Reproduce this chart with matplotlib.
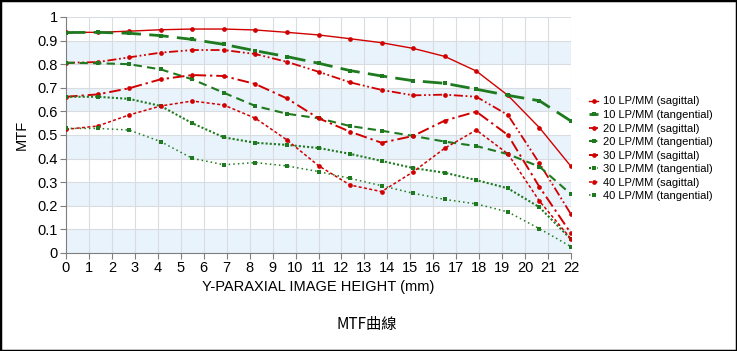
import numpy as np
import matplotlib
matplotlib.use("Agg")
import matplotlib.pyplot as plt
from matplotlib.patches import Rectangle

plt.rcParams['font.family'] = ['Liberation Sans', 'DejaVu Sans']

# image height positions of the markers (mm)
heights = [i * 22 / 16 for i in range(17)]

s10 = [0.935, 0.935, 0.94, 0.946, 0.949, 0.949, 0.945, 0.935, 0.924, 0.908,
       0.891, 0.867, 0.833, 0.771, 0.668, 0.531, 0.367]
t10 = [0.934, 0.935, 0.931, 0.921, 0.905, 0.884, 0.857, 0.832, 0.804, 0.773,
       0.75, 0.73, 0.719, 0.694, 0.668, 0.645, 0.559]
s20 = [0.806, 0.809, 0.829, 0.849, 0.86, 0.86, 0.843, 0.81, 0.768, 0.723,
       0.691, 0.668, 0.671, 0.662, 0.585, 0.38, 0.164]
t20 = [0.806, 0.804, 0.8, 0.778, 0.736, 0.679, 0.623, 0.59, 0.571, 0.538,
       0.518, 0.496, 0.472, 0.453, 0.419, 0.366, 0.249]
s30 = [0.662, 0.672, 0.698, 0.736, 0.754, 0.75, 0.716, 0.655, 0.571, 0.514,
       0.467, 0.496, 0.561, 0.599, 0.5, 0.28, 0.083]
t30 = [0.662, 0.662, 0.653, 0.623, 0.55, 0.49, 0.467, 0.458, 0.445, 0.42,
       0.39, 0.36, 0.34, 0.309, 0.274, 0.194, 0.058]
s40 = [0.524, 0.538, 0.585, 0.623, 0.644, 0.627, 0.571, 0.479, 0.37, 0.288,
       0.26, 0.344, 0.444, 0.521, 0.42, 0.22, 0.06]
t40 = [0.528, 0.528, 0.521, 0.472, 0.401, 0.374, 0.383, 0.369, 0.345, 0.316,
       0.285, 0.253, 0.227, 0.208, 0.174, 0.103, 0.027]

labels = ["10 LP/MM (sagittal)", "10 LP/MM (tangential)",
          "20 LP/MM (sagittal)", "20 LP/MM (tangential)",
          "30 LP/MM (sagittal)", "30 LP/MM (tangential)",
          "40 LP/MM (sagittal)", "40 LP/MM (tangential)"]

RED = '#d10000'
GREEN = '#1f7a1f'

styles = [
    dict(color=RED, ls='-', lw=1.0, marker='o'),
    dict(color=GREEN, ls=(0, (7, 3)), lw=2.0, marker='s'),
    dict(color=RED, ls=(0, (5, 1.5, 1, 1.5, 1, 1.5)), lw=1.3, marker='o'),
    dict(color=GREEN, ls=(0, (4, 2.5)), lw=1.5, marker='s'),
    dict(color=RED, ls=(0, (6, 2, 1.2, 2)), lw=1.4, marker='o'),
    dict(color=GREEN, ls=(0, (1, 1)), lw=1.5, marker='s'),
    dict(color=RED, ls=(0, (2, 1.5)), lw=1.1, marker='o'),
    dict(color=GREEN, ls=(0, (1, 2)), lw=1.1, marker='s'),
]

fig = plt.figure(figsize=(7.37, 3.51), dpi=100)
ax = fig.add_axes([66 / 737, 1 - 253 / 351, (571 - 66) / 737, (253 - 17) / 351])

# alternating bands
for lo in [0.0, 0.2, 0.4, 0.6, 0.8]:
    ax.axhspan(lo, lo + 0.1, color='#e9f3fb', zorder=0, lw=0)

ax.set_xticks(range(23))
ax.set_yticks(np.arange(0, 1.01, 0.1))
ax.set_yticklabels(["0", "0.1", "0.2", "0.3", "0.4", "0.5",
                    "0.6", "0.7", "0.8", "0.9", "1"])
ax.grid(True, color='#d9dde2', lw=0.8, zorder=1)
ax.set_axisbelow(True)

series = [s10, t10, s20, t20, s30, t30, s40, t40]
for vals, lab, st in zip(series, labels, styles):
    ax.plot(heights, vals, label=lab, color=st['color'], ls=st['ls'],
            lw=st['lw'], marker=st['marker'], ms=3.4, mew=0, zorder=3)

ax.set_xlim(0, 22)
ax.set_ylim(0, 1)
for side in ['top', 'right']:
    ax.spines[side].set_visible(False)
for side in ['left', 'bottom']:
    ax.spines[side].set_color('#7f7f7f')
ax.tick_params(colors='#7f7f7f', labelcolor='black', labelsize=10.5,
               length=4, width=0.8, pad=2)

ax.set_xlabel("Y-PARAXIAL IMAGE HEIGHT (mm)", fontsize=10.5, labelpad=3)
ax.set_ylabel("MTF", fontsize=10.5, labelpad=6)

leg = fig.legend(loc='upper left', bbox_to_anchor=(585 / 737, 1 - 92 / 351),
                 fontsize=8, frameon=False, handlelength=0.8,
                 handletextpad=0.4, labelspacing=0.32, borderaxespad=0)

fig.text(0.497, 1 - 325 / 351, "MTF曲線", ha='center', va='center',
         fontsize=11, family=['Noto Sans CJK TC', 'DejaVu Sans'])

# outer frame
fig.patches.append(Rectangle((0, 0), 1, 1, transform=fig.transFigure,
                             fill=False, ec='black', lw=2.5))

fig.savefig("out.png", dpi=100)
